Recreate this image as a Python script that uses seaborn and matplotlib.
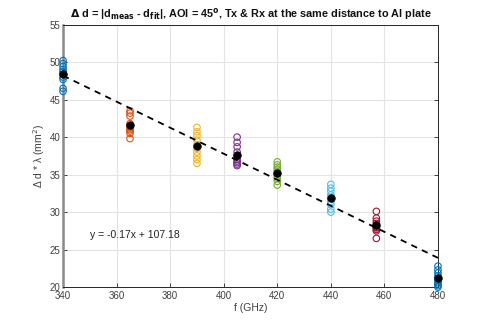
import numpy as np
import pandas as pd
import seaborn as sns
import matplotlib.pyplot as plt

# frequencies (GHz) and the measured Δd*λ values (mm^2) at each one
freqs = [340, 365, 390, 405, 420, 440, 457, 480]
vals_340 = [50.2, 49.8, 49.4, 49.0, 48.7, 48.4, 48.0, 47.7, 46.5, 46.1]
vals_365 = [43.5, 43.2, 42.8, 41.8, 41.4, 41.2, 41.0, 40.8, 40.5, 39.8]
vals_390 = [41.3, 40.7, 40.2, 39.6, 39.0, 38.5, 38.0, 37.5, 37.0, 36.5]
vals_405 = [40.0, 39.3, 38.7, 38.0, 37.5, 37.0, 36.8, 36.6, 36.4, 36.2]
vals_420 = [36.7, 36.3, 36.0, 35.7, 35.4, 35.1, 34.8, 34.5, 34.1, 33.6]
vals_440 = [33.7, 33.2, 32.8, 32.3, 32.0, 31.8, 31.4, 31.0, 30.4, 30.0]
vals_457 = [30.1, 29.2, 28.8, 28.5, 28.2, 28.0, 27.9, 27.7, 27.5, 26.5]
vals_480 = [22.8, 22.3, 21.9, 21.5, 21.2, 20.9, 20.6, 20.4, 20.2, 20.0]
all_vals = [vals_340, vals_365, vals_390, vals_405, vals_420, vals_440, vals_457, vals_480]

# matlab default colour order
colors = ["#0072BD", "#D95319", "#EDB120", "#7E2F8E", "#77AC30", "#4DBEEE", "#A2142F", "#0072BD"]

# linear fit shown on the chart
fit_slope = -0.1735
fit_intercept = 107.18
fit_label = "y = -0.17x + 107.18"

df = pd.DataFrame({"f": np.repeat(freqs, [len(v) for v in all_vals]),
                   "val": np.concatenate(all_vals)})
means = df.groupby("f", as_index=False)["val"].mean()
fit_x = np.array([340, 480])
fit = pd.DataFrame({"f": fit_x, "val": fit_slope * fit_x + fit_intercept})

sns.set_style("whitegrid")
plt.rcParams["font.family"] = ["Liberation Sans", "DejaVu Sans"]

fig = plt.figure(figsize=(4.85, 3.23), dpi=100)
ax = fig.add_axes([0.13, 0.111, 0.773, 0.813])

# open circles per frequency
sns.scatterplot(data=df, x="f", y="val", hue="f", palette=dict(zip(freqs, colors)),
                s=22, linewidth=0.8, legend=False, ax=ax, zorder=3, clip_on=False)
pts = ax.collections[-1]
pts.set_edgecolors(pts.get_facecolors())
pts.set_facecolor("none")

# mean points
sns.scatterplot(data=means, x="f", y="val", color="black", s=30, edgecolor="black",
                linewidth=0.5, legend=False, ax=ax, zorder=4, clip_on=False)

# fit line
sns.lineplot(data=fit, x="f", y="val", color="black", linestyle=(0, (3.5, 3)),
             linewidth=1.3, ax=ax, zorder=5)

ax.text(350, 27.0, fit_label, fontsize=7.5, color="#222222", va="center")

ax.set_xlim(340, 480)
ax.set_ylim(20, 55)
ax.set_xticks(np.arange(340, 481, 20))
ax.set_yticks(np.arange(20, 56, 5))
ax.grid(True, color="#e3e3e3", linewidth=0.8)
for s in ax.spines.values():
    s.set_visible(True)
    s.set_color("#262626")
    s.set_linewidth(0.7)
ax.spines["left"].set_color("#8a8a8a")
ax.spines["left"].set_linewidth(1.8)
ax.tick_params(direction="in", length=3, width=0.6, color="#262626",
               labelsize=7, labelcolor="#404040", pad=2, right=True, top=False)
ax.tick_params(axis="x", bottom=True, pad=3)
ax.tick_params(axis="y", left=True)

ax.set_xlabel("f (GHz)", fontsize=7.5, color="#404040", labelpad=1)
ax.set_ylabel("\u0394 d * \u03bb (mm$^2$)", fontsize=7.5, color="#404040", labelpad=2)
ax.set_title(r"$\mathbf{\Delta}$ d = |d$_{\mathbf{meas}}$ - d$_{\mathbf{fit}}$|, AOI = 45$^{\mathbf{o}}$, "
             "Tx & Rx at the same distance to Al plate",
             fontsize=7.8, fontweight="bold", color="#111111", pad=5)

fig.savefig("out.png", dpi=100)
